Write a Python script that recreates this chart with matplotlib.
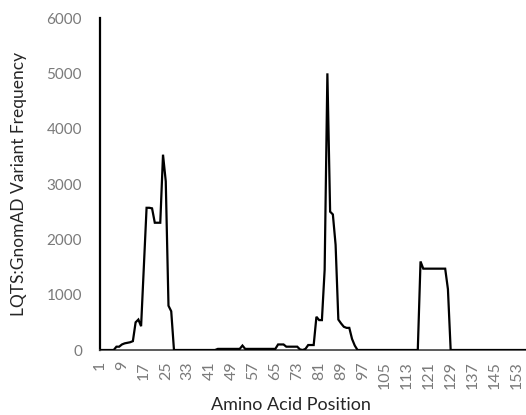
import matplotlib.pyplot as plt
import numpy as np

# Amino acid positions and LQTS:GnomAD variant frequency
positions = np.arange(1, 158)

freq_values = {
    7: 60, 8: 60, 9: 100, 10: 120, 11: 130, 12: 140, 13: 160, 14: 500,
    15: 550, 16: 430, 17: 1500, 18: 2570, 19: 2570, 20: 2560, 21: 2300,
    22: 2300, 23: 2300, 24: 3530, 25: 3050, 26: 800, 27: 700,
    44: 20, 45: 20, 46: 20, 47: 20, 48: 20, 49: 20, 50: 20, 51: 20, 52: 20,
    53: 80, 54: 20, 55: 20, 56: 20, 57: 20, 58: 20, 59: 20, 60: 20, 61: 20,
    62: 20, 63: 20, 64: 20, 65: 20, 66: 100, 67: 100, 68: 100, 69: 60,
    70: 60, 71: 60, 72: 60, 73: 60, 74: 10, 76: 20, 77: 90, 78: 90, 79: 90,
    80: 600, 81: 540, 82: 540, 83: 1450, 84: 5000, 85: 2500, 86: 2450,
    87: 1900, 88: 550, 89: 480, 90: 420, 91: 400, 92: 400, 93: 200, 94: 80,
    118: 1600, 119: 1470, 120: 1470, 121: 1470, 122: 1470, 123: 1470,
    124: 1470, 125: 1470, 126: 1470, 127: 1470, 128: 1100,
}
frequency = np.array([freq_values.get(p, 0) for p in positions])

xtick_labels = np.arange(1, 157, 8)
yticks = np.arange(0, 6001, 1000)

plt.rcParams['font.family'] = ['Lato', 'DejaVu Sans']

fig = plt.figure(figsize=(5.26, 4.15), dpi=100, facecolor='white')
ax = fig.add_axes([100 / 526, 1 - 350 / 415, 426 / 526, 332 / 415])

ax.plot(positions, frequency, color='black', linewidth=1.6, zorder=3,
        solid_joinstyle='miter')

ax.set_xlim(1, 156.5)
ax.set_ylim(0, 6000)
ax.set_yticks(yticks)
ax.set_xticks(xtick_labels)
ax.set_xticklabels([str(v) for v in xtick_labels], rotation=90)

grey = '#7a7a7a'
ax.tick_params(axis='y', length=0, pad=13, labelsize=11, labelcolor=grey)
ax.tick_params(axis='x', length=0, pad=8, labelsize=11.5, labelcolor=grey)

for side in ['top', 'right']:
    ax.spines[side].set_visible(False)
ax.spines['left'].set_color('black')
ax.spines['left'].set_linewidth(1.6)
ax.spines['bottom'].set_color('#404040')
ax.spines['bottom'].set_linewidth(1.2)

ax.set_ylabel('LQTS:GnomAD Variant Frequency', fontsize=12.5, color='#262626')
ax.yaxis.set_label_coords(-73 / 426, 0.5)
ax.set_xlabel('Amino Acid Position', fontsize=13, color='#262626')
ax.xaxis.set_label_coords((291 - 100) / 426, -47 / 332)

fig.savefig('out.png', dpi=100, facecolor='white')
